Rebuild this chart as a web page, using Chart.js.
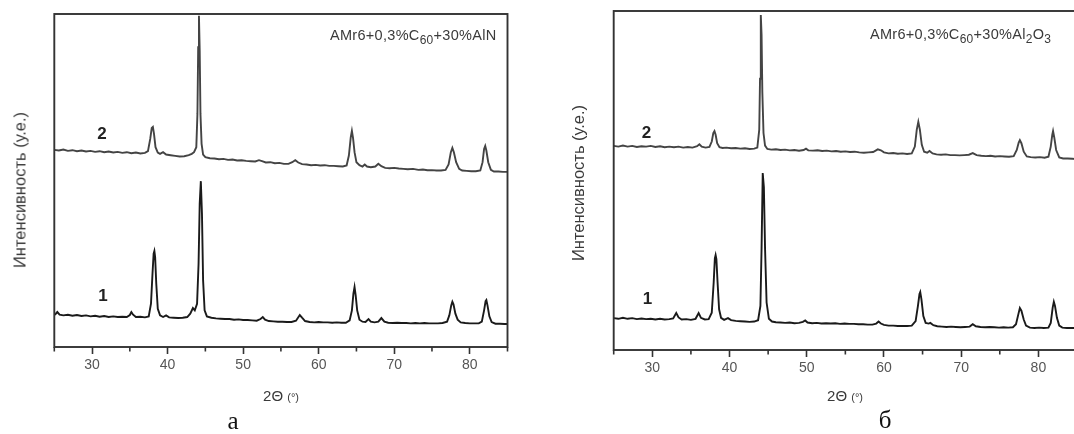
<!DOCTYPE html>
<html>
<head>
<meta charset="utf-8">
<script src="https://cdn.jsdelivr.net/npm/chart.js@4/dist/chart.umd.min.js"></script>
<style>
  html, body { margin: 0; padding: 0; background: #fff; overflow: hidden; width: 1074px; height: 434px; }
  .wrap { position: absolute; top: 0; height: 434px; }
  .txt { position: absolute; font-family: "Liberation Sans", Arial, sans-serif; color: #3a3a3a; white-space: nowrap; }
  .ytitle { font-size: 16.5px; transform: translate(-50%, -50%) rotate(-90deg); }
  .xtitle { font-size: 15px; transform: translate(-50%, -50%); }
  .xtitle small { font-size: 11px; }
  .note { font-size: 14.5px; transform: translateY(-50%); letter-spacing: 0.3px; }
  .note sub { font-size: 12px; vertical-align: -4px; line-height: 0; }
  .curve { font-size: 17px; font-weight: bold; color: #222; transform: translate(-50%, -50%); }
  .panel { position: absolute; font-family: "Liberation Serif", "Times New Roman", serif; font-size: 25px; color: #111; transform: translateX(-50%); }
</style>
</head>
<body>
<div class="wrap" style="left:0;width:530px;"><canvas id="chartA"></canvas></div>
<div class="wrap" style="left:560px;width:540px;"><canvas id="chartB"></canvas></div>

<div class="txt ytitle" style="left:19.5px;top:190px;">Интенсивность (у.е.)</div>
<div class="txt ytitle" style="left:577.5px;top:183px;">Интенсивность (у.е.)</div>
<div class="txt xtitle" style="left:281px;top:395px;">2Θ <small>(°)</small></div>
<div class="txt xtitle" style="left:845px;top:395px;">2Θ <small>(°)</small></div>
<div class="txt note" style="left:330px;top:35px;">AMr6+0,3%C<sub>60</sub>+30%AlN</div>
<div class="txt note" style="left:870px;top:34px;">AMr6+0,3%C<sub>60</sub>+30%Al<sub>2</sub>O<sub>3</sub></div>
<div class="txt curve" style="left:102px;top:134px;">2</div>
<div class="txt curve" style="left:103px;top:296px;">1</div>
<div class="txt curve" style="left:646.5px;top:132.5px;">2</div>
<div class="txt curve" style="left:647.5px;top:298.5px;">1</div>
<div class="panel" style="left:233px;top:407px;">а</div>
<div class="panel" style="left:885px;top:406px;">б</div>

<script>
// 2θ axis range and tick labels
const thetaMin = 25;
const thetaMax = 85;
const majorTicks = [30, 40, 50, 60, 70, 80];
const minorTicks = [25, 35, 45, 55, 65, 75, 85];

// Panel а: AMr6+0,3%C60+30%AlN
// curve 2
const a2Theta = [25.0,25.6,26.2,26.8,27.4,28.0,28.6,29.2,29.8,30.4,31.0,31.6,32.2,32.8,33.4,34.0,34.6,35.2,35.8,36.4,37.0,37.4,37.7,37.9,38.05,38.2,38.4,38.7,39.0,39.4,39.8,40.4,41.0,41.6,42.2,42.8,43.2,43.5,43.8,43.95,44.05,44.15,44.25,44.35,44.5,44.7,45.0,45.6,46.2,46.8,47.4,48.0,48.6,49.2,49.8,50.4,51.0,51.6,52.1,52.5,53.0,53.6,54.2,54.8,55.4,56.0,56.5,56.9,57.3,57.8,58.4,59.0,59.6,60.2,60.8,61.4,62.0,62.6,63.2,63.7,64.0,64.25,64.4,64.55,64.75,65.0,65.4,65.8,66.1,66.4,66.9,67.5,67.9,68.3,68.8,69.4,70.0,70.6,71.2,71.8,72.5,73.2,73.8,74.4,75.0,75.6,76.2,76.8,77.2,77.5,77.7,77.9,78.2,78.6,79.0,79.6,80.2,80.8,81.4,81.7,81.9,82.05,82.2,82.45,82.8,83.2,83.8,84.4,85.0];
const a2Int = [592,590,593,589,591,588,590,587,589,586,588,585,587,584,586,583,585,582,584,581,583,588,625,658,661,640,600,584,580,585,578,576,574,572,573,576,580,585,600,700,900,995,890,700,610,578,570,567,566,564,565,562,563,560,561,559,558,557,561,558,554,555,552,553,550,550,555,561,554,549,548,546,547,545,546,544,544,543,542,545,575,630,649,628,585,555,546,542,548,542,540,542,550,543,538,537,538,536,535,534,535,532,533,531,531,530,530,532,548,585,598,585,555,535,530,529,528,528,530,555,595,604,590,555,532,527,527,526,526];
// curve 1
const a1Theta = [25.0,25.2,25.4,25.7,26.2,26.8,27.4,28.0,28.6,29.2,29.8,30.4,31.0,31.6,32.2,32.8,33.4,34.0,34.6,35.0,35.2,35.4,35.8,36.4,37.0,37.5,37.8,38.0,38.15,38.25,38.35,38.5,38.7,39.0,39.4,39.8,40.2,40.8,41.4,42.0,42.6,43.0,43.35,43.6,43.9,44.1,44.25,44.4,44.55,44.7,44.9,45.2,45.8,46.4,47.0,47.6,48.2,48.8,49.4,50.0,50.6,51.2,51.8,52.3,52.6,52.9,53.4,54.0,54.6,55.2,55.8,56.4,57.0,57.5,57.8,58.2,58.8,59.4,60.0,60.6,61.2,61.8,62.4,63.0,63.6,64.1,64.4,64.6,64.75,64.9,65.1,65.4,65.8,66.2,66.6,66.9,67.4,67.9,68.3,68.7,69.2,69.8,70.4,71.0,71.6,72.2,72.8,73.4,74.0,74.6,75.2,75.8,76.4,77.0,77.3,77.55,77.7,77.85,78.1,78.4,78.8,79.4,80.0,80.6,81.2,81.6,81.9,82.1,82.2,82.35,82.6,82.9,83.4,84.0,84.6,85.0];
const a1Int = [96,100,105,97,95,97,94,96,93,95,92,94,91,93,90,92,90,91,90,96,105,98,90,91,89,92,130,220,280,288,270,190,115,95,90,95,89,88,87,88,90,100,117,110,130,250,430,498,400,200,110,92,88,86,85,84,84,82,83,81,81,80,79,84,90,82,78,77,76,76,75,75,79,96,88,78,75,74,75,74,74,73,74,73,73,80,110,160,180,155,110,82,76,75,84,76,74,76,87,76,73,72,73,72,72,71,72,71,72,71,71,71,72,76,95,125,136,128,100,82,74,72,71,71,71,76,110,138,141,125,92,75,70,70,69,69];

// Panel б: AMr6+0,3%C60+30%Al2O3
// curve 2
const b2Theta = [25.0,25.6,26.2,26.8,27.4,28.0,28.6,29.2,29.8,30.4,31.0,31.6,32.2,32.8,33.4,34.0,34.6,35.2,35.8,36.1,36.4,36.9,37.4,37.7,37.9,38.05,38.2,38.4,38.7,39.1,39.6,40.2,40.8,41.4,42.0,42.6,43.2,43.6,43.85,43.95,44.05,44.15,44.25,44.4,44.6,44.9,45.4,46.0,46.6,47.2,47.8,48.4,49.0,49.6,49.9,50.2,50.8,51.4,52.0,52.6,53.2,53.8,54.4,55.0,55.6,56.2,56.8,57.4,58.0,58.6,59.2,59.6,60.0,60.6,61.2,61.8,62.4,63.0,63.6,64.0,64.25,64.45,64.65,64.9,65.2,65.6,65.9,66.3,66.8,67.4,68.0,68.6,69.2,69.8,70.4,71.0,71.5,72.0,72.6,73.2,73.8,74.4,75.0,75.6,76.2,76.8,77.2,77.45,77.6,77.8,78.1,78.5,79.0,79.6,80.2,80.8,81.3,81.6,81.8,81.9,82.05,82.3,82.7,83.2,83.8,84.4,85.0];
const b2Int = [602,600,603,600,602,599,601,600,602,599,601,598,600,598,600,597,599,597,601,607,600,597,599,615,640,646,635,610,598,596,597,595,596,594,595,593,594,597,650,800,988,930,760,640,603,593,591,592,590,591,589,590,588,590,594,589,588,589,587,588,586,587,585,586,584,585,583,582,583,584,592,589,583,580,581,579,580,578,580,600,650,673,650,605,585,582,587,580,577,576,577,575,575,574,575,576,581,575,573,572,573,571,572,571,570,572,590,612,619,610,585,571,569,568,569,567,570,600,635,646,628,590,568,565,565,564,563];
// curve 1
const b1Theta = [25.0,25.6,26.2,26.8,27.4,28.0,28.6,29.2,29.8,30.4,31.0,31.6,32.2,32.7,33.1,33.4,33.8,34.4,35.0,35.6,36.0,36.3,36.8,37.3,37.7,37.95,38.1,38.2,38.3,38.45,38.65,38.9,39.3,39.8,40.2,40.8,41.4,42.0,42.6,43.2,43.7,44.0,44.15,44.3,44.45,44.6,44.8,45.1,45.5,46.0,46.6,47.2,47.8,48.4,49.0,49.5,49.8,50.1,50.7,51.3,51.9,52.5,53.1,53.7,54.3,54.9,55.5,56.1,56.7,57.3,57.9,58.5,59.0,59.3,59.6,60.0,60.6,61.2,61.8,62.4,63.0,63.6,64.1,64.4,64.6,64.7,64.85,65.1,65.4,65.8,66.0,66.4,66.9,67.5,68.1,68.7,69.3,69.9,70.5,71.1,71.5,71.9,72.5,73.1,73.7,74.3,74.9,75.5,76.1,76.7,77.1,77.4,77.6,77.8,78.1,78.4,78.9,79.5,80.1,80.7,81.3,81.6,81.85,82.0,82.15,82.4,82.7,83.1,83.7,84.3,85.0];
const b1Int = [94,92,95,92,94,91,93,91,92,90,92,90,91,93,109,96,90,91,89,92,109,95,90,91,110,200,270,280,268,200,120,95,89,94,88,86,85,84,83,84,88,130,300,522,480,300,140,92,84,82,81,80,81,79,80,83,87,81,79,80,78,79,78,79,77,78,77,77,76,76,75,75,78,84,78,74,72,72,71,71,71,72,85,130,165,171,150,100,80,78,80,73,70,69,68,69,68,67,68,69,76,70,68,67,68,67,66,67,66,67,76,105,124,116,90,72,66,65,66,65,66,80,125,142,130,95,72,66,65,65,65];

const FRAME = '#333333';

function pts(xs, ys) { return xs.map((x, i) => ({ x: x, y: ys[i] })); }

// closed frame around the plot area plus short minor ticks on the 2θ axis
const framePlugin = {
  id: 'frame',
  afterDraw(chart) {
    const { ctx, chartArea: a, scales } = chart;
    ctx.save();
    ctx.strokeStyle = FRAME;
    ctx.lineWidth = 1.9;
    ctx.strokeRect(a.left, a.top, a.right - a.left, a.bottom - a.top);
    ctx.lineWidth = 1.6;
    ctx.beginPath();
    minorTicks.forEach(v => {
      const px = scales.x.getPixelForValue(v);
      ctx.moveTo(px, a.bottom);
      ctx.lineTo(px, a.bottom + 4.5);
    });
    ctx.stroke();
    ctx.restore();
  }
};

function makeChart(id, size, area, series) {
  const canvas = document.getElementById(id);
  canvas.width = size.w;
  canvas.height = size.h;
  return new Chart(canvas, {
    type: 'line',
    data: {
      datasets: series.map(s => ({
        data: pts(s.x, s.y),
        borderColor: s.color,
        borderWidth: s.width,
        pointRadius: 0,
        tension: 0,
        fill: false
      }))
    },
    options: {
      responsive: false,
      animation: false,
      events: [],
      layout: { padding: { left: 0, top: area.top, right: size.w - area.right, bottom: 0 } },
      plugins: { legend: { display: false }, tooltip: { enabled: false } },
      scales: {
        x: {
          type: 'linear',
          min: thetaMin,
          max: thetaMax,
          afterFit(s) { s.height = size.h - area.bottom; },
          afterBuildTicks(s) { s.ticks = majorTicks.map(v => ({ value: v })); },
          border: { display: false },
          grid: { drawOnChartArea: false, drawTicks: true, tickLength: 7, tickColor: FRAME, tickWidth: 1.6, color: FRAME },
          ticks: {
            padding: 3,
            color: '#555555',
            font: { family: '"Liberation Sans", Arial, sans-serif', size: 14 },
            maxRotation: 0,
            autoSkip: false
          }
        },
        y: {
          min: 0,
          max: 1000,
          afterFit(s) { s.width = area.left; },
          border: { display: false },
          grid: { display: false, drawTicks: false },
          ticks: { display: false }
        }
      }
    },
    plugins: [framePlugin]
  });
}

makeChart('chartA', { w: 530, h: 434 }, { left: 54.3, right: 507.5, top: 14, bottom: 347 }, [
  { x: a2Theta, y: a2Int, color: '#444444', width: 1.9 },
  { x: a1Theta, y: a1Int, color: '#1a1a1a', width: 1.9 }
]);
makeChart('chartB', { w: 540, h: 434 }, { left: 53.7, right: 517, top: 11, bottom: 350 }, [
  { x: b2Theta, y: b2Int, color: '#444444', width: 1.9 },
  { x: b1Theta, y: b1Int, color: '#1a1a1a', width: 1.9 }
]);
</script>
</body>
</html>
